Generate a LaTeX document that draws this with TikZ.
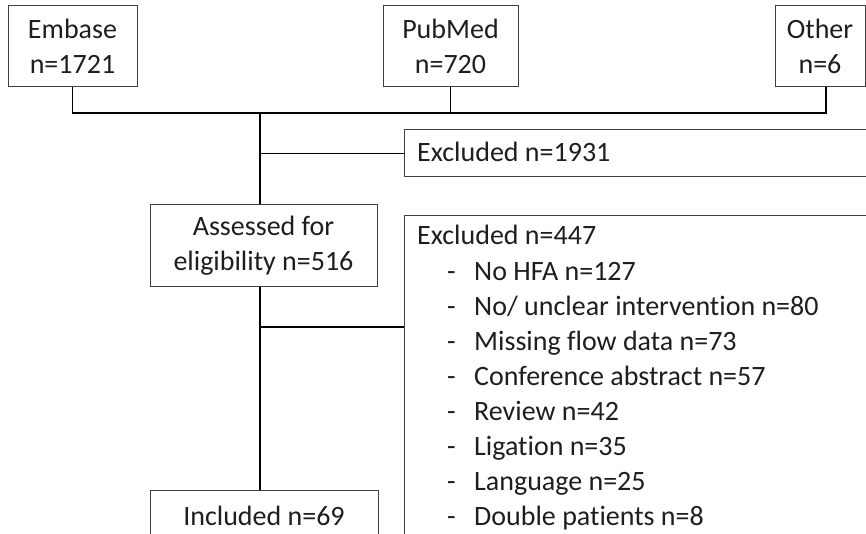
\documentclass[tikz,border=0pt]{standalone}
\usepackage{fontspec}
\setmainfont{Carlito}[Ligatures=NoCommon]
\definecolor{boxgray}{HTML}{404040}
\definecolor{txtgray}{HTML}{1E1E1E}
\begin{document}
\begin{tikzpicture}[x=1pt,y=-1pt,
  box/.style={draw=boxgray, line width=1pt, inner sep=0pt, text=txtgray,
    font=\fontsize{28}{35}\selectfont, align=center},
  txt/.style={inner sep=0pt, text=txtgray, font=\fontsize{28}{35}\selectfont},
  conn/.style={line width=1.8pt, draw=black}]
\useasboundingbox (0,0) rectangle (866,534);
\clip (0,0) rectangle (866,534);
% top sources
\node[box, minimum width=129pt, minimum height=81pt] (embase) at (72.5,46.5) {Embase\\n=1721};
\node[box, minimum width=135pt, minimum height=81pt] (pubmed) at (450.5,46.5) {PubMed\\n=720};
\node[box, minimum width=90pt, minimum height=81pt] (other) at (820,46.5) {Other\\n=6};
% excluded 1
\node[box, anchor=west, minimum width=600pt, minimum height=47pt] (ex1) at (404,153.5) {};
\node[txt, anchor=base west] (ex1t) at (417,162) {Excluded n=1931};
% assessed
\node[box, minimum width=227pt, minimum height=81pt] (assess) at (263.5,245.5) {Assessed for\\eligibility n=516};
% excluded 2
\node[box, anchor=north west, minimum width=600pt, minimum height=400pt] (ex2) at (404,215) {};
\node[txt, anchor=base west] (ex2t) at (417,245) {Excluded n=447};
\foreach \t [count=\i] in {No HFA n=127, No/ unclear intervention n=80, Missing flow data n=73, Conference abstract n=57, Review n=42, Ligation n=35, Language n=25, Double patients n=8}{
  \node[txt, anchor=base west] (dash\i) at (447,280+35*\i-35) {-};
  \node[txt, anchor=base west] (item\i) at (474,280+35*\i-35) {\t};
}
% included
\node[box, anchor=north, minimum width=228pt, minimum height=50pt] (incl) at (264,490) {Included n=69};
% connectors
\coordinate (jr) at (826,113);
\coordinate (jm) at (260,113);
\coordinate (b2) at (260,327);
\draw[conn] (embase.south) |- (jr) -- (jr |- other.south);
\draw[conn] (pubmed.south) -- (pubmed.south |- jr);
\draw[conn] (jm) -- (jm |- assess.north);
\draw[conn] (jm |- ex1.west) -- (ex1.west);
\draw[conn] (jm |- assess.south) -- (jm |- incl.north);
\draw[conn] (b2) -- (b2 -| ex2.west);
\end{tikzpicture}
\end{document}
